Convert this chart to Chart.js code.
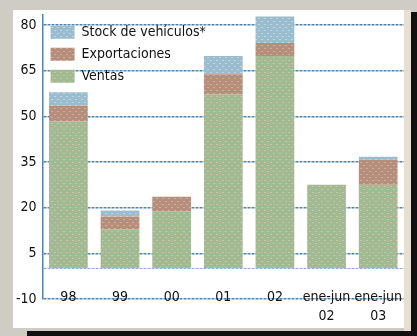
<!DOCTYPE html>
<html>
<head>
<meta charset="utf-8">
<script src="https://cdn.jsdelivr.net/npm/chart.js@4.4.0/dist/chart.umd.min.js"></script>
<style>
html,body{margin:0;padding:0;}
body{width:417px;height:336px;background:#cfccc6;position:relative;overflow:hidden;}
#white{position:absolute;left:13px;top:10px;width:391px;height:318px;background:#ffffff;}
#beige{position:absolute;left:404px;top:10px;width:7px;height:321px;background:#e6dfd2;}
#shR{position:absolute;left:411px;top:12px;width:6px;height:324px;background:#111;}
#shB{position:absolute;left:27px;top:331px;width:390px;height:5px;background:#111;}
#wrap{position:absolute;left:0;top:0;width:417px;height:336px;}
</style>
</head>
<body>
<div id="white"></div><div id="beige"></div><div id="shR"></div><div id="shB"></div>
<div id="wrap"><canvas id="c" width="417" height="336"></canvas></div>
<script>
const categories = ['98', '99', '00', '01', '02', ['ene-jun', '02'], ['ene-jun', '03']];
const ventas = [48.3, 12.8, 18.8, 57.3, 69.8, 27.5, 27.5];
const exportaciones = [5.3, 4.3, 4.8, 6.5, 4.3, 0, 8.3];
const stock = [4.3, 2.0, 0, 6.0, 8.7, 0, 0.9];
const yTicks = [-10, 0, 5, 20, 35, 50, 65, 80];

const FONT = "'Liberation Sans Narrow', 'DejaVu Sans Condensed', 'Arial Narrow', sans-serif";
const gridColor = '#4f84ad';

function halftone(base, dot) {
  const c = document.createElement('canvas');
  c.width = 6; c.height = 6;
  const g = c.getContext('2d');
  g.fillStyle = base; g.fillRect(0, 0, 6, 6);
  g.fillStyle = dot;
  g.fillRect(0, 0, 1, 1); g.fillRect(3, 3, 1, 1);
  g.fillRect(1, 0, 1, 1); g.fillRect(4, 3, 1, 1);
  return g.createPattern(c, 'repeat');
}

new Chart(document.getElementById('c'), {
  type: 'bar',
  data: {
    labels: categories,
    datasets: [
      {label: 'Ventas', data: ventas, backgroundColor: halftone('#a0ba94', '#cdc49e'), stack: 's'},
      {label: 'Exportaciones', data: exportaciones, backgroundColor: halftone('#b68f7c', '#d2ae98'), stack: 's'},
      {label: 'Stock de vehículos*', data: stock, backgroundColor: halftone('#99bdce', '#c3d6dc'), stack: 's'}
    ]
  },
  options: {
    responsive: false,
    animation: false,
    layout: {padding: {left: 10, right: 13, top: 11, bottom: 37}},
    datasets: {bar: {categoryPercentage: 1, barPercentage: 0.75}},
    plugins: {
      tooltip: {enabled: false},
      legend: {
        position: 'chartArea',
        align: 'start',
        reverse: true,
        title: {display: true, text: ' ', font: {size: 1}, padding: {top: 16, bottom: 0}},
        labels: {
          boxWidth: 24, boxHeight: 13, padding: 8,
          color: '#111',
          font: {family: FONT, size: 14}
        }
      }
    },
    scales: {
      x: {
        stacked: true,
        grid: {display: false, drawTicks: false},
        border: {display: false},
        ticks: {color: '#111', mirror: true, padding: -8, maxRotation: 0, autoSkip: false,
          font: {family: FONT, size: 14, lineHeight: 1.4}}
      },
      y: {
        stacked: true,
        min: -10, max: 83.5,
        afterBuildTicks: (scale) => { scale.ticks = yTicks.map(v => ({value: v})); },
        grid: {
          color: (ctx) => ctx.tick && ctx.tick.value === 0 ? '#8fb0c8' : gridColor,
          lineWidth: (ctx) => ctx.tick && ctx.tick.value === 0 ? 1 : 1.5,
          drawTicks: false
        },
        border: {display: true, color: gridColor, width: 1.5, dash: [3, 1]},
        ticks: {color: '#111', padding: 6, font: {family: FONT, size: 14},
          callback: (v) => v === 0 ? '' : v}
      }
    }
  }
});
</script>
</body>
</html>
